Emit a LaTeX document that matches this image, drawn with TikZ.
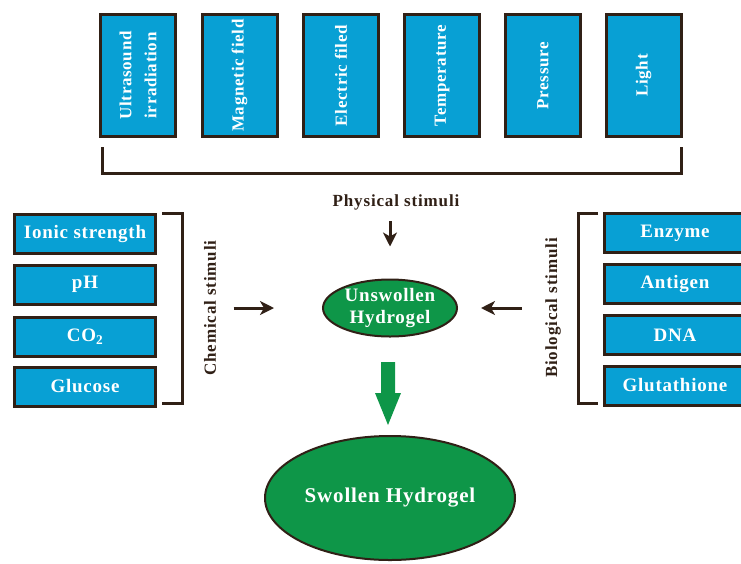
\documentclass[tikz,border=0pt]{standalone}
\usepackage{fontspec}
\setmainfont{Liberation Serif}
\newfontfamily\boxfont[LetterSpace=4]{Liberation Serif}
\newfontfamily\labelfont[LetterSpace=5]{Liberation Serif}
\usetikzlibrary{positioning,arrows.meta,shapes}

\definecolor{stimblue}{RGB}{8,160,212}
\definecolor{gelgreen}{RGB}{14,150,72}
\definecolor{darkbrown}{RGB}{48,32,22}

\begin{document}
\begin{tikzpicture}[
        x=1pt, y=-1pt,
        box/.style = {draw=darkbrown, line width=3pt, fill=stimblue, text=white,
                      font=\boxfont\bfseries\fontsize{19}{21}\selectfont,
                      minimum width=141, minimum height=39, inner sep=0pt},
        tallbox/.style = {box, rotate=90, align=center, minimum width=122, minimum height=75,
                          font=\boxfont\bfseries\fontsize{17}{25}\selectfont},
        gel/.style = {ellipse, draw=darkbrown, line width=2pt, fill=gelgreen, text=white,
                      align=center, inner sep=0pt,
                      font=\boxfont\bfseries\fontsize{19}{22}\selectfont},
        stimlabel/.style = {font=\labelfont\bfseries\fontsize{17}{18}\selectfont, text=darkbrown},
        bracket/.style = {draw=darkbrown, line width=3pt},
        arrow/.style = {-{Stealth[length=14pt,width=14pt,inset=4pt]}, draw=darkbrown, line width=3pt}
    ]
    \useasboundingbox (0,0) rectangle (741,563);

    % Physical stimuli
    \node[tallbox] (ultra) at (138,75.5) {Ultrasound\\irradiation};
    \node[tallbox] (magnet) at (239.5,75.5) {Magnetic field};
    \node[tallbox] (electric) at (341,75.5) {Electric filed};
    \node[tallbox] (temp) at (442,75.5) {Temperature};
    \node[tallbox] (press) at (543,75.5) {Pressure};
    \node[tallbox] (light) at (643.5,75.5) {Light};
    \draw[bracket] (102,147) |- (681,173) -- (681,147);
    \node[stimlabel] (phys) at (396,202) {Physical stimuli};

    % Chemical stimuli
    \node[box] (ionic) at (85,234) {Ionic strength};
    \node[box] (ph) at (85,284.5) {pH};
    \node[box] (co2) at (85,336.5) {CO\textsubscript{2}};
    \node[box] (glucose) at (85,386.5) {Glucose};
    \draw[bracket] (162,213) -| (182,403) -- (162,403);
    \node[stimlabel, rotate=90] (chem) at (210,308) {Chemical stimuli};

    % Biological stimuli
    \node[box] (enzyme) at (675,233) {Enzyme};
    \node[box] (antigen) at (675,284) {Antigen};
    \node[box] (dna) at (675,335) {DNA};
    \node[box] (gsh) at (675,385.5) {Glutathione};
    \draw[bracket] (598,213) -| (578,403) -- (598,403);
    \node[stimlabel, rotate=90] (bio) at (553,308) {Biological stimuli};

    % Hydrogel
    \node[gel, minimum width=134, minimum height=57] (unsw) at (390,308) {Unswollen\\Hydrogel};
    \node[gel, minimum width=250, minimum height=124, font=\boxfont\bfseries\fontsize{21}{23}\selectfont]
        (swol) at (390,498) {Swollen Hydrogel};

    % Arrows
    \draw[arrow, shorten <=8pt, shorten >=32pt] (phys.south -| unsw.north) -- (unsw.north);
    \draw[arrow, shorten <=14pt, shorten >=48pt] (chem.south) -- (unsw.west);
    \draw[arrow, shorten <=20pt, shorten >=23pt] (bio.north) -- (unsw.east);
    \fill[gelgreen] (381,362) -- (395,362) -- (395,393) -- (401,393) -- (388,425)
        -- (375,393) -- (381,393) -- cycle;

\end{tikzpicture}
\end{document}
